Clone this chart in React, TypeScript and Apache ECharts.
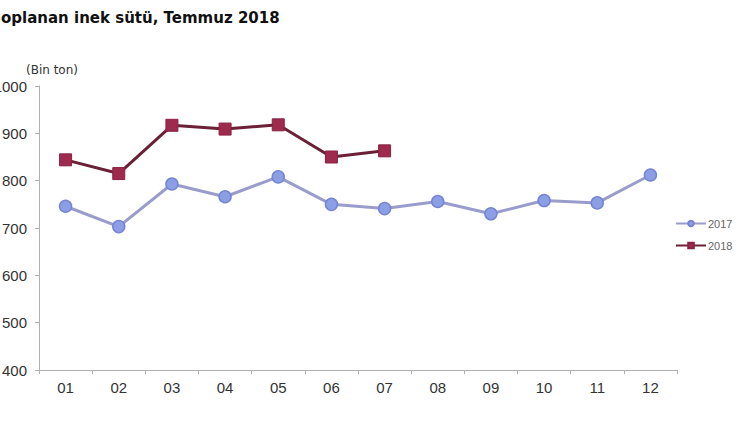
import React, { useEffect, useRef } from "react";
import * as echarts from "echarts";

const months = ["01", "02", "03", "04", "05", "06", "07", "08", "09", "10", "11", "12"];
const series2017 = [746, 703, 793, 766, 808, 750, 741, 756, 730, 758, 753, 812];
const series2018 = [844, 815, 917, 909, 918, 850, 863];
const titleText = "oplanan inek sütü, Temmuz 2018";
const unitText = "(Bin ton)";
const yMin = 400;
const yMax = 1000;
const yStep = 100;

const FONT = "'Liberation Sans', Arial, sans-serif";

export default function App() {
  const ref = useRef<HTMLDivElement>(null);
  useEffect(() => {
    if (!ref.current) return;
    const chart = echarts.init(ref.current, undefined, { renderer: "svg" });
    chart.setOption({
      animation: false,
      backgroundColor: "#ffffff",
      textStyle: { fontFamily: FONT },
      title: {
        text: titleText,
        left: -4,
        top: 5,
        textStyle: { fontSize: 15, fontWeight: "bold", color: "#111111", fontFamily: "'DejaVu Sans', sans-serif" },
      },
      graphic: [
        {
          type: "text",
          left: 26,
          top: 64,
          style: { text: unitText, fontSize: 12, fill: "#333333", fontFamily: "'DejaVu Sans', sans-serif" },
        },
      ],
      legend: {
        orient: "vertical",
        left: 670,
        top: 213,
        itemWidth: 30,
        itemHeight: 7,
        itemGap: 11,
        lineStyle: { width: 2 },
        textStyle: { fontSize: 11, color: "#666666", padding: [0, 0, 0, -3], fontFamily: FONT },
        data: ["2017", "2018"],
      },
      grid: { left: 39, right: 73, top: 86, bottom: 52, containLabel: false, outerBoundsMode: "none" },
      xAxis: {
        type: "category",
        data: months,
        boundaryGap: true,
        axisLine: { lineStyle: { color: "#b0b0b0", width: 1 } },
        axisTick: { show: true, length: 4, lineStyle: { color: "#b0b0b0" } },
        axisLabel: { fontSize: 15, color: "#333333", margin: 10, fontFamily: FONT },
      },
      yAxis: {
        type: "value",
        min: yMin,
        max: yMax,
        interval: yStep,
        axisLine: { show: true, lineStyle: { color: "#b0b0b0", width: 1 } },
        axisTick: { show: true, length: 4, lineStyle: { color: "#b0b0b0" } },
        splitLine: { show: false },
        axisLabel: { fontSize: 15, color: "#333333", margin: 12, fontFamily: FONT, formatter: (v: number) => String(v) },
      },
      series: [
        {
          name: "2017",
          type: "line",
          data: series2017,
          symbol: "circle",
          symbolSize: 12,
          lineStyle: { color: "#9a9ccc", width: 3 },
          itemStyle: { color: "#8c9fe6", borderColor: "#7585d2", borderWidth: 1.5 },
        },
        {
          name: "2018",
          type: "line",
          data: series2018,
          symbol: "rect",
          symbolSize: 12,
          lineStyle: { color: "#6a2136", width: 3 },
          itemStyle: { color: "#9e2a4e", borderColor: "#8a2243", borderWidth: 1 },
        },
      ],
    });
    return () => chart.dispose();
  }, []);
  return (
    <div
      ref={ref}
      style={{ position: "absolute", left: 0, top: 0, width: 750, height: 422 }}
    />
  );
}
